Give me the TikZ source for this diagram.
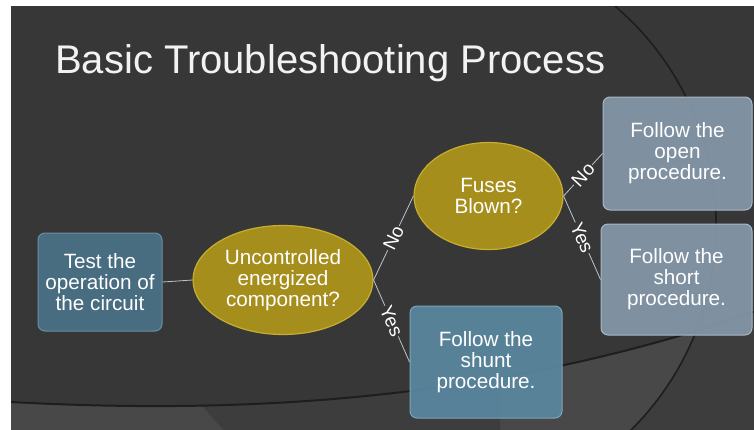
\documentclass[tikz,border=0pt]{standalone}
\usepackage{fontspec}
\setmainfont{Liberation Sans}
\usetikzlibrary{shapes.geometric}
\definecolor{bg}{HTML}{373737}
\definecolor{lowin}{HTML}{484848}
\definecolor{lowout}{HTML}{3D3D3D}
\definecolor{arcc}{HTML}{1E1E1E}
\definecolor{boxAfill}{HTML}{4A7186}
\definecolor{boxAdraw}{HTML}{6890A4}
\definecolor{boxBfill}{HTML}{5A879F}
\definecolor{boxBdraw}{HTML}{7CA4B9}
\definecolor{boxCfill}{HTML}{8597A8}
\definecolor{boxCdraw}{HTML}{A8B7C5}
\definecolor{ellfill}{HTML}{A58E1C}
\definecolor{elldraw}{HTML}{C8AE2E}
\definecolor{connc}{HTML}{BCC4CC}
\tikzset{
  txt/.style={text=white, align=center, font=\fontsize{20.7}{21}\selectfont, inner sep=0pt},
  boxbase/.style={txt, rectangle, rounded corners=7pt, line width=1pt, fill opacity=0.93, text opacity=1},
  boxA/.style={boxbase, fill=boxAfill, draw=boxAdraw},
  boxB/.style={boxbase, fill=boxBfill, draw=boxBdraw},
  boxC/.style={boxbase, fill=boxCfill, draw=boxCdraw},
  decision/.style={txt, ellipse, fill=ellfill, draw=elldraw, line width=1.2pt},
  conn/.style={draw=connc, line width=0.8pt},
  lbl/.style={sloped, fill=bg, text=white, inner sep=1.2pt, font=\fontsize{19}{19}\selectfont},
}
\begin{document}
\begin{tikzpicture}[x=1pt,y=-1pt]
\useasboundingbox (0,0) rectangle (754,429);
\fill[white] (0,0) rectangle (754,429);
\begin{scope}
\clip (11,6) rectangle (754,429);
\fill[bg] (11,6) rectangle (754,429);
% lower lighter region
\fill[lowin] (11,402) .. controls (250,415) and (500,400) .. (754,312) -- (760,435) -- (5,435) -- cycle;
\begin{scope}
\clip (11,402) .. controls (250,415) and (500,400) .. (754,312) -- (760,435) -- (5,435) -- cycle;
\fill[lowout, even odd rule] (500,-100) rectangle (800,600) (427.5,225.4) circle (288.6);
\end{scope}
\draw[arcc, line width=2pt] (11,402) .. controls (250,415) and (500,400) .. (754,312);
\begin{scope}
\clip (500,6) rectangle (754,429);
\draw[arcc, line width=1.6pt] (427.5,225.4) circle (288.6);
\end{scope}
\end{scope}

\node[anchor=base west, text=white!95!black, font=\fontsize{40}{40}\selectfont, inner sep=0pt] (title) at (55,73) {Basic Troubleshooting Process};

\node[boxA, minimum width=124pt, minimum height=98pt] (test) at (100,282) {Test the\\operation of\\the circuit};
\node[decision, minimum width=180pt, minimum height=109pt] (unc) at (283,280) {Uncontrolled\\energized\\component?};
\node[decision, minimum width=149pt, minimum height=107pt] (fuse) at (488.5,196) {Fuses\\Blown?};
\node[boxB, minimum width=152pt, minimum height=112pt] (shunt) at (486,362) {Follow the\\shunt\\procedure.};
\node[boxC, minimum width=149pt, minimum height=113pt] (open) at (677.5,153.5) {Follow the\\open\\procedure.};
\node[boxC, minimum width=151pt, minimum height=111pt] (short) at (676.5,279.5) {Follow the\\short\\procedure.};

\draw[conn] (test.east) -- (unc.west);
\draw[conn] (unc.east) -- node[lbl] {No} (fuse.west);
\draw[conn] (unc.east) -- node[lbl] {Yes} (shunt.west);
\draw[conn] (fuse.east) -- node[lbl] {No} (open.west);
\draw[conn] (fuse.east) -- node[lbl] {Yes} (short.west);
\end{tikzpicture}
\end{document}
